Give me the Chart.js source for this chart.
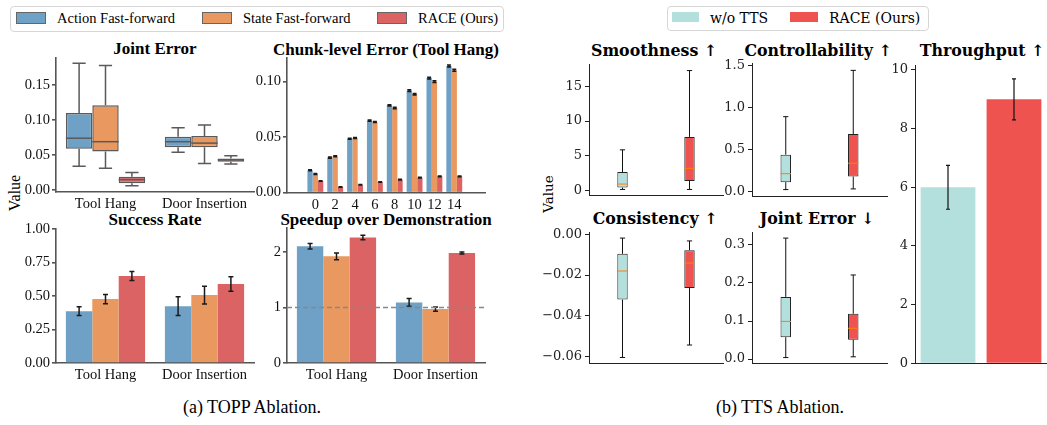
<!DOCTYPE html>
<html>
<head>
<meta charset="utf-8">
<script src="https://cdn.jsdelivr.net/npm/chart.js@4.4.1/dist/chart.umd.min.js"></script>
<style>
  body { margin: 0; background: #fff; }
  #fig { position: relative; width: 1047px; height: 425px; overflow: hidden; background: #fff; }
  #fig canvas { position: absolute; }
  .t { position: absolute; transform: translate(-50%, -50%); white-space: nowrap; color: #000; }
  .tl { position: absolute; white-space: nowrap; transform: translateY(-50%); }
  .times { font-family: "Liberation Serif", "Times New Roman", serif; }
  .dv { font-family: "DejaVu Serif", serif; }
  .ttl-l { font-size: 17px; font-weight: bold; }
  .ttl-r { font-size: 15.8px; font-weight: bold; }
  .rot { transform: translate(-50%, -50%) rotate(-90deg); }
  .legend { position: absolute; border: 1px solid #d6d6d6; border-radius: 4px; background: #fff; }
  .sw { position: absolute; }
</style>
</head>
<body>
<div id="fig">
  <!-- legends -->
  <div class="legend" style="left:10px;top:6px;width:492px;height:24px"></div>
  <div class="sw" style="left:16px;top:12px;width:28px;height:10px;background:#6fa1c6;border:1px solid #666"></div>
  <div class="tl times" style="left:57px;top:18px;font-size:14.5px">Action Fast-forward</div>
  <div class="sw" style="left:202px;top:12px;width:28px;height:10px;background:#e9995f;border:1px solid #666"></div>
  <div class="tl times" style="left:243px;top:18px;font-size:14.5px">State Fast-forward</div>
  <div class="sw" style="left:377px;top:12px;width:28px;height:10px;background:#dc6363;border:1px solid #666"></div>
  <div class="tl times" style="left:418px;top:18px;font-size:14.5px">RACE (Ours)</div>

  <div class="legend" style="left:667px;top:6px;width:260px;height:23px"></div>
  <div class="sw" style="left:672px;top:12px;width:27px;height:10px;background:#b3dfdc"></div>
  <div class="tl dv" style="left:710px;top:17.5px;font-size:14px">w/o TTS</div>
  <div class="sw" style="left:790px;top:12px;width:28px;height:10px;background:#ef5350"></div>
  <div class="tl dv" style="left:829px;top:17.5px;font-size:14px">RACE (Ours)</div>

  <!-- titles -->
  <div class="t times ttl-l" style="left:155px;top:49px">Joint Error</div>
  <div class="t times ttl-l" style="left:386px;top:49.5px">Chunk-level Error (Tool Hang)</div>
  <div class="t times ttl-l" style="left:155px;top:220px">Success Rate</div>
  <div class="t times ttl-l" style="left:386px;top:219.5px">Speedup over Demonstration</div>
  <div class="t dv ttl-r" style="left:654px;top:49.5px">Smoothness ↑</div>
  <div class="t dv ttl-r" style="left:655px;top:217.5px">Consistency ↑</div>
  <div class="t dv ttl-r" style="left:818px;top:50px">Controllability ↑</div>
  <div class="t dv ttl-r" style="left:817px;top:217.5px">Joint Error ↓</div>
  <div class="t dv ttl-r" style="left:982px;top:50px">Throughput ↑</div>

  <div class="t times rot" style="left:15px;top:193px;font-size:16px">Value</div>
  <div class="t dv rot" style="left:548px;top:194px;font-size:13.5px">Value</div>

  <div class="t times" style="left:252px;top:407px;font-size:18px">(a) TOPP Ablation.</div>
  <div class="t times" style="left:780px;top:407px;font-size:18px">(b) TTS Ablation.</div>
</div>

<script>
// ---------- data ----------
const envs = ['Tool Hang', 'Door Insertion'];
const methods = ['Action Fast-forward', 'State Fast-forward', 'RACE (Ours)'];

// box stats: [min, q1, median, q3, max] per env
const jointAction = [[0.034, 0.059, 0.074, 0.110, 0.181], [0.054, 0.061, 0.069, 0.076, 0.089]];
const jointState  = [[0.031, 0.055, 0.069, 0.121, 0.178], [0.038, 0.061, 0.067, 0.077, 0.093]];
const jointRace   = [[0.006, 0.0095, 0.015, 0.019, 0.025], [0.037, 0.0405, 0.043, 0.045, 0.049]];

const chunkSteps  = [0, 2, 4, 6, 8, 10, 12, 14];
const chunkAction = [0.0201, 0.0315, 0.0485, 0.0647, 0.0785, 0.0917, 0.1030, 0.1138];
const chunkState  = [0.0168, 0.0327, 0.0491, 0.0635, 0.0761, 0.0884, 0.0997, 0.1100];
const chunkRace   = [0.0105, 0.0051, 0.0072, 0.0096, 0.0117, 0.0135, 0.0147, 0.0147];
const chunkActionErr = [0.0005, 0.0005, 0.0005, 0.0005, 0.0006, 0.0007, 0.0008, 0.0009];
const chunkStateErr  = [0.0004, 0.0005, 0.0005, 0.0005, 0.0006, 0.0007, 0.0008, 0.0009];
const chunkRaceErr   = [0.0003, 0.0002, 0.0002, 0.0003, 0.0003, 0.0003, 0.0003, 0.0003];

const successAction = [0.387, 0.424], successActionErr = [0.032, 0.070];
const successState  = [0.477, 0.507], successStateErr  = [0.034, 0.066];
const successRace   = [0.649, 0.589], successRaceErr   = [0.034, 0.054];

const speedAction = [2.10, 1.09], speedActionErr = [0.05, 0.07];
const speedState  = [1.92, 0.97], speedStateErr  = [0.06, 0.04];
const speedRace   = [2.26, 1.98], speedRaceErr   = [0.04, 0.02];

const ttsGroups   = ['w/o TTS', 'RACE (Ours)'];
const smoothBox   = [[0.1, 0.37, 0.88, 2.61, 5.83], [0.1, 1.33, 3.16, 7.7, 17.3]];
const consistBox  = [[-0.0603, -0.032, -0.018, -0.0096, -0.0019], [-0.0542, -0.0263, -0.0141, -0.0078, -0.0033]];
const controlBox  = [[0.019, 0.107, 0.209, 0.436, 0.89], [0.027, 0.175, 0.334, 0.683, 1.443]];
const jointTtsBox = [[0.004, 0.0575, 0.099, 0.1635, 0.318], [0.006, 0.051, 0.081, 0.119, 0.221]];
const throughput = [6.0, 9.0], throughputErr = [0.75, 0.70];

// tick labels
const jointTicks   = [0, 0.05, 0.10, 0.15];
const chunkTicks   = [0, 0.05, 0.10];
const successTicks = [0, 0.25, 0.5, 0.75, 1.0];
const speedTicks   = [0, 1, 2];
const smoothTicks  = [0, 5, 10, 15];
const consistTicks = [-0.06, -0.04, -0.02, 0];
const controlTicks = [0, 0.5, 1.0, 1.5];
const jointTtsTicks = [0, 0.1, 0.2, 0.3];
const throughputTicks = [0, 2, 4, 6, 8, 10];

// ---------- styling ----------
const BLUE = '#6fa1c6', ORANGE = '#e9995f', RED = '#dc6363';
const TEAL = '#b3dfdc', RED2 = '#ef5350';
const L = { family: '"Liberation Serif", "Times New Roman", serif', size: 14.5, axis: '#555', aw: 1.6, text: '#111' };
const R = { family: '"DejaVu Serif", serif', size: 13, axis: '#222', aw: 1, text: '#222' };

// ---------- plugins ----------
const boxPlugin = {
  id: 'boxWhiskers',
  afterDatasetsDraw(chart) {
    const ctx = chart.ctx, y = chart.scales.y;
    chart.data.datasets.forEach((ds, di) => {
      if (!ds.stats) return;
      chart.getDatasetMeta(di).data.forEach((bar, i) => {
        const [lo, q1, med, q3, hi] = ds.stats[i];
        const cap = bar.width / 4;
        ctx.save();
        ctx.strokeStyle = ds.whisker;
        ctx.lineWidth = ds.lw;
        ctx.beginPath();
        ctx.moveTo(bar.x, y.getPixelForValue(q3)); ctx.lineTo(bar.x, y.getPixelForValue(hi));
        ctx.moveTo(bar.x, y.getPixelForValue(q1)); ctx.lineTo(bar.x, y.getPixelForValue(lo));
        ctx.moveTo(bar.x - cap, y.getPixelForValue(hi)); ctx.lineTo(bar.x + cap, y.getPixelForValue(hi));
        ctx.moveTo(bar.x - cap, y.getPixelForValue(lo)); ctx.lineTo(bar.x + cap, y.getPixelForValue(lo));
        ctx.stroke();
        ctx.strokeStyle = ds.median;
        ctx.beginPath();
        const ym = y.getPixelForValue(med);
        ctx.moveTo(bar.x - bar.width / 2, ym); ctx.lineTo(bar.x + bar.width / 2, ym);
        ctx.stroke();
        ctx.restore();
      });
    });
  }
};

const errPlugin = {
  id: 'errorBars',
  afterDatasetsDraw(chart) {
    const ctx = chart.ctx, y = chart.scales.y;
    chart.data.datasets.forEach((ds, di) => {
      if (!ds.errors) return;
      chart.getDatasetMeta(di).data.forEach((bar, i) => {
        const raw = ds.data[i];
        const v = typeof raw === 'number' ? raw : raw.y;
        const y1 = y.getPixelForValue(v + ds.errors[i]);
        const y2 = y.getPixelForValue(v - ds.errors[i]);
        const c = ds.errCap;
        ctx.save();
        ctx.strokeStyle = ds.errColor || '#1a1a1a';
        ctx.lineWidth = ds.errWidth || 1.5;
        ctx.beginPath();
        ctx.moveTo(bar.x, y1); ctx.lineTo(bar.x, y2);
        ctx.moveTo(bar.x - c, y1); ctx.lineTo(bar.x + c, y1);
        ctx.moveTo(bar.x - c, y2); ctx.lineTo(bar.x + c, y2);
        ctx.stroke();
        ctx.restore();
      });
    });
  }
};

const refLinePlugin = {
  id: 'refLine',
  afterDatasetsDraw(chart, args, opts) {
    if (opts.value === undefined) return;
    const { ctx, chartArea } = chart;
    const yy = chart.scales.y.getPixelForValue(opts.value);
    ctx.save();
    ctx.strokeStyle = '#888';
    ctx.lineWidth = 1.5;
    ctx.setLineDash([5, 3]);
    ctx.beginPath();
    ctx.moveTo(chartArea.left, yy); ctx.lineTo(chartArea.right, yy);
    ctx.stroke();
    ctx.restore();
  }
};

Chart.register(boxPlugin, errPlugin, refLinePlugin);

// ---------- helpers ----------
const fig = document.getElementById('fig');

function yScale(st, min, max, ticks, fmt, yW) {
  return {
    min, max,
    afterBuildTicks: s => { s.ticks = ticks.map(v => ({ value: v })); },
    afterFit: s => { s.width = yW; },
    ticks: { callback: fmt, font: { family: st.family, size: st.size }, color: st.text, padding: st === L ? 2 : 3 },
    grid: { drawOnChartArea: false, drawTicks: true, tickLength: 4, color: st.axis, lineWidth: st.aw },
    border: { display: true, color: st.axis, width: st.aw }
  };
}

function xCat(st, xH, show) {
  return {
    type: 'category', offset: true,
    afterFit: s => { s.height = xH; },
    ticks: { display: show, font: { family: st.family, size: st.size }, color: st.text, padding: 3, maxRotation: 0, autoSkip: false },
    grid: { display: false, drawTicks: false },
    border: { display: true, color: st.axis, width: st.aw }
  };
}

function mount(area, yW, xH, padR, config) {
  const padT = 12;
  const [al, at, ar, ab] = area;
  const left = al - yW, top = at - padT;
  const W = ar + padR - left, H = ab + xH - top;
  const cv = document.createElement('canvas');
  cv.width = W; cv.height = H;
  Object.assign(cv.style, { left: left + 'px', top: top + 'px', width: W + 'px', height: H + 'px' });
  fig.appendChild(cv);
  config.options.layout = { padding: { top: padT, right: padR, left: 0, bottom: 0 } };
  config.options.responsive = false;
  config.options.animation = false;
  config.options.devicePixelRatio = 1;
  config.options.plugins = Object.assign({ legend: { display: false }, tooltip: { enabled: false } }, config.options.plugins || {});
  return new Chart(cv, config);
}

const f2 = v => v.toFixed(2);
const f1 = v => v.toFixed(1);
const fi = v => String(v);
const fneg = v => (v === 0 ? '0.00' : v.toFixed(2).replace('-', '\u2212'));

function boxSet(stats, bg, edge, whisker, median, lw) {
  return {
    data: stats.map(s => [s[1], s[3]]), stats,
    backgroundColor: bg, borderColor: edge, borderWidth: lw, borderSkipped: false,
    whisker, median, lw
  };
}

function errSet(label, data, errors, color, cap) {
  return { label, data, errors, backgroundColor: color, borderWidth: 0, errCap: cap, errWidth: 1.5 };
}

// ---------- (a) TOPP ablation ----------
mount([56, 58, 254, 192], 50, 22, 6, {
  type: 'bar',
  data: {
    labels: envs,
    datasets: [
      Object.assign(boxSet(jointAction, BLUE, '#5a5a5a', '#5a5a5a', '#5a5a5a', 1.5), { label: methods[0] }),
      Object.assign(boxSet(jointState, ORANGE, '#5a5a5a', '#5a5a5a', '#5a5a5a', 1.5), { label: methods[1] }),
      Object.assign(boxSet(jointRace, RED, '#5a5a5a', '#5a5a5a', '#5a5a5a', 1.5), { label: methods[2] })
    ]
  },
  options: {
    datasets: { bar: { categoryPercentage: 0.8, barPercentage: 1 } },
    scales: { x: xCat(L, 22, true), y: yScale(L, -0.00286, 0.1886, jointTicks, f2, 50) }
  }
});

mount([287, 58, 485, 193], 50, 22, 6, {
  type: 'bar',
  data: {
    datasets: [
      errSet(methods[0], chunkSteps.map((s, i) => ({ x: s, y: chunkAction[i] })), chunkActionErr, BLUE, 2),
      errSet(methods[1], chunkSteps.map((s, i) => ({ x: s, y: chunkState[i] })), chunkStateErr, ORANGE, 2),
      errSet(methods[2], chunkSteps.map((s, i) => ({ x: s, y: chunkRace[i] })), chunkRaceErr, RED, 2)
    ]
  },
  options: {
    datasets: { bar: { categoryPercentage: 0.8, barPercentage: 1 } },
    scales: {
      x: {
        type: 'linear', min: -1.61, max: 15.85,
        afterBuildTicks: s => { s.ticks = chunkSteps.map(v => ({ value: v })); },
        afterFit: s => { s.height = 22; },
        ticks: { font: { family: L.family, size: L.size }, color: L.text, padding: 3, maxRotation: 0, autoSkip: false },
        grid: { display: false, drawTicks: false },
        border: { display: true, color: L.axis, width: L.aw }
      },
      y: yScale(L, -0.0003, 0.121, chunkTicks, f2, 50)
    }
  }
});

mount([56, 229, 254, 363], 50, 22, 6, {
  type: 'bar',
  data: {
    labels: envs,
    datasets: [
      errSet(methods[0], successAction, successActionErr, BLUE, 2.5),
      errSet(methods[1], successState, successStateErr, ORANGE, 2.5),
      errSet(methods[2], successRace, successRaceErr, RED, 2.5)
    ]
  },
  options: {
    datasets: { bar: { categoryPercentage: 0.8, barPercentage: 1 } },
    scales: { x: xCat(L, 22, true), y: yScale(L, 0, 1.0, successTicks, f2, 50) }
  }
});

mount([287, 228, 485, 363], 50, 22, 6, {
  type: 'bar',
  data: {
    labels: envs,
    datasets: [
      errSet(methods[0], speedAction, speedActionErr, BLUE, 2.5),
      errSet(methods[1], speedState, speedStateErr, ORANGE, 2.5),
      errSet(methods[2], speedRace, speedRaceErr, RED, 2.5)
    ]
  },
  options: {
    datasets: { bar: { categoryPercentage: 0.8, barPercentage: 1 } },
    plugins: { refLine: { value: 1 } },
    scales: { x: xCat(L, 22, true), y: yScale(L, 0, 2.43, speedTicks, fi, 50) }
  }
});

// ---------- (b) TTS ablation ----------
function ttsBox(area, yW, stats, min, max, ticks, fmt) {
  mount(area, yW, 4, 6, {
    type: 'bar',
    data: {
      labels: ttsGroups,
      datasets: [boxSet(stats, [TEAL, RED2], '#222', '#111', '#ff7f0e', 1)]
    },
    options: {
      datasets: { bar: { categoryPercentage: 1, barPercentage: 0.155 } },
      scales: { x: xCat(R, 4, false), y: yScale(R, min, max, ticks, fmt, yW) }
    }
  });
}

ttsBox([589, 64, 723, 202], 50, smoothBox, -0.73, 18.25, smoothTicks, fi);
ttsBox([589, 232, 723, 370], 50, consistBox, -0.0631, 0.00107, consistTicks, fneg);
ttsBox([752, 63, 887, 203], 40, controlBox, -0.060, 1.531, controlTicks, f1);
ttsBox([752, 232, 887, 370], 40, jointTtsBox, -0.0108, 0.334, jointTtsTicks, f1);

mount([915, 65, 1047, 370], 40, 4, 0, {
  type: 'bar',
  data: {
    labels: ttsGroups,
    datasets: [{
      label: 'Throughput', data: throughput, errors: throughputErr,
      backgroundColor: [TEAL, RED2], borderWidth: 0, errCap: 2, errWidth: 1.2, errColor: '#111'
    }]
  },
  options: {
    datasets: { bar: { categoryPercentage: 1, barPercentage: 0.83 } },
    scales: { x: xCat(R, 4, false), y: yScale(R, 0, 10.17, throughputTicks, fi, 40) }
  }
});
</script>
</body>
</html>
